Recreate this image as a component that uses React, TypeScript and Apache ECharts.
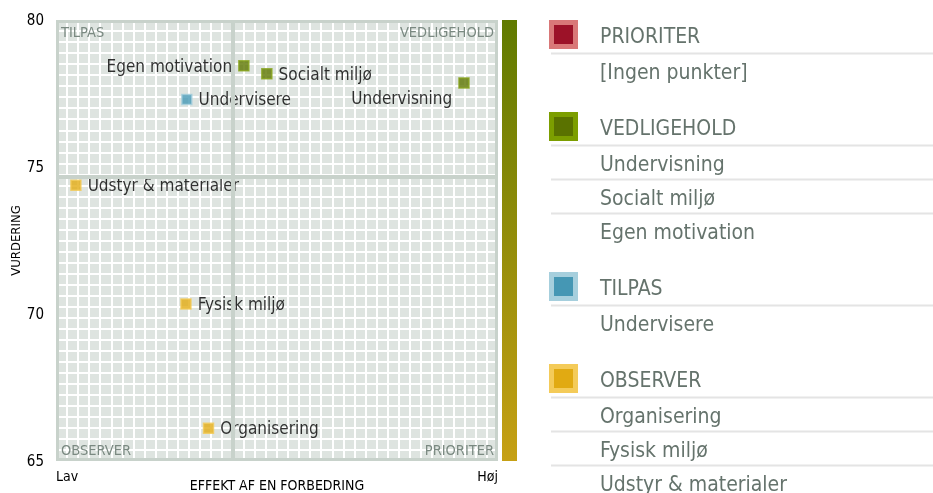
import React, { useEffect, useRef } from "react";
import * as echarts from "echarts";

// ---------- data ----------
const categories = [
  "Undervisning",
  "Socialt miljø",
  "Egen motivation",
  "Undervisere",
  "Udstyr & materialer",
  "Fysisk miljø",
  "Organisering",
];
const effekt = [92.3, 47.7, 42.5, 29.6, 4.5, 29.4, 34.5];
const vurdering = [77.86, 78.17, 78.44, 77.3, 74.38, 70.34, 66.11];
const yTicks = [65, 70, 75, 80];
const xTickLabels = ["Lav", "Høj"];
const quadrantNames = ["PRIORITER", "VEDLIGEHOLD", "TILPAS", "OBSERVER"];
const emptyText = "[Ingen punkter]";
const xAxisName = "EFFEKT AF EN FORBEDRING";
const yAxisName = "VURDERING";

// ---------- styles ----------
const FONT = "'DejaVu Sans Condensed', 'DejaVu Sans', sans-serif";
const quadColors: Record<string, { outer: string; inner: string }> = {
  PRIORITER: { outer: "#d97878", inner: "#9c1228" },
  VEDLIGEHOLD: { outer: "#88a51c", inner: "#5d7600" },
  TILPAS: { outer: "#a6cfdd", inner: "#4598b5" },
  OBSERVER: { outer: "#f3cb59", inner: "#e2ab13" },
};
const legendSquare: Record<string, { outer: string; inner: string }> = {
  PRIORITER: { outer: "#d97878", inner: "#9c1228" },
  VEDLIGEHOLD: { outer: "#7c9e00", inner: "#5a7200" },
  TILPAS: { outer: "#a6cfdd", inner: "#4597b4" },
  OBSERVER: { outer: "#f4cb59", inner: "#e1aa12" },
};
const labelPlacement: Record<string, any> = {
  Undervisning: { position: "left", offset: [0, 15] },
  "Egen motivation": { position: "left" },
};

const G = { left: 56, top: 20, width: 442, height: 441 };

export default function App() {
  const ref = useRef<HTMLDivElement>(null);

  useEffect(() => {
    if (!ref.current) return;
    const chart = echarts.init(ref.current, undefined, { renderer: "svg" });

    const meanX = effekt.reduce((a, b) => a + b, 0) / effekt.length;
    const meanY = vurdering.reduce((a, b) => a + b, 0) / vurdering.length;

    const quadOf = (i: number) => {
      const hx = effekt[i] >= meanX;
      const hy = vurdering[i] >= meanY;
      if (hx && !hy) return "PRIORITER";
      if (hx && hy) return "VEDLIGEHOLD";
      if (!hx && hy) return "TILPAS";
      return "OBSERVER";
    };

    const data = categories.map((name, i) => {
      const q = quadOf(i);
      const lp = labelPlacement[name] || { position: "right" };
      return {
        name,
        value: [effekt[i], vurdering[i]],
        itemStyle: {
          color: quadColors[q].inner,
          borderColor: quadColors[q].outer,
          borderWidth: 1.5,
        },
        label: { ...lp },
      };
    });

    // legend graphic
    const graphics: any[] = [];
    let y0 = 20;
    const lineX1 = 551;
    const lineX2 = 933;
    quadrantNames.forEach((q) => {
      const items = categories
        .map((c, i) => ({ c, i }))
        .filter((o) => quadOf(o.i) === q)
        .sort((a, b) => effekt[b.i] - effekt[a.i])
        .map((o) => o.c);
      const list = items.length ? items : [emptyText];
      graphics.push({
        type: "rect",
        shape: { x: 549, y: y0, width: 29, height: 29 },
        style: { fill: legendSquare[q].outer },
      });
      graphics.push({
        type: "rect",
        shape: { x: 554, y: y0 + 5, width: 19, height: 19 },
        style: { fill: legendSquare[q].inner },
      });
      graphics.push({
        type: "text",
        x: 600,
        y: y0 + 16,
        style: {
          text: q,
          fill: "#65736c",
          fontSize: 21,
          fontFamily: FONT,
          textVerticalAlign: "middle",
        },
      });
      graphics.push({
        type: "line",
        shape: { x1: lineX1, y1: y0 + 33.5, x2: lineX2, y2: y0 + 33.5 },
        style: { stroke: "#e4e4e4", lineWidth: 2 },
      });
      list.forEach((t, k) => {
        graphics.push({
          type: "text",
          x: 600,
          y: y0 + 52 + 34 * k,
          style: {
            text: t,
            fill: "#65736c",
            fontSize: 21,
            fontFamily: FONT,
            textVerticalAlign: "middle",
          },
        });
        if (k < list.length - 1) {
          const ly = y0 + 33.5 + 34 * (k + 1);
          graphics.push({
            type: "line",
            shape: { x1: lineX1, y1: ly, x2: lineX2, y2: ly },
            style: { stroke: "#e4e4e4", lineWidth: 2 },
          });
        }
      });
      y0 += 58 + 34 * list.length;
    });

    // colour bar
    graphics.push({
      type: "rect",
      shape: { x: 502, y: G.top, width: 15, height: G.height },
      style: {
        fill: new echarts.graphic.LinearGradient(0, 0, 0, 1, [
          { offset: 0, color: "#607a00" },
          { offset: 1, color: "#c6a014" },
        ]),
      },
    });

    // plot frame
    graphics.push({
      type: "rect",
      z: 1,
      shape: { x: G.left + 1.5, y: G.top + 1.5, width: G.width - 3, height: G.height - 3 },
      style: { fill: "none", stroke: "#c8d2cb", lineWidth: 3 },
    });

    // quadrant labels
    const ql = (text: string, x: number, y: number, align: string) => ({
      type: "text",
      z: 1,
      x,
      y,
      style: {
        text,
        fill: "#7a8981",
        fontSize: 14.5,
        fontFamily: FONT,
        textAlign: align,
        textVerticalAlign: "middle",
      },
    });
    graphics.push(ql("TILPAS", 61, 32, "left"));
    graphics.push(ql("VEDLIGEHOLD", 494, 32, "right"));
    graphics.push(ql("OBSERVER", 61, 450, "left"));
    graphics.push(ql("PRIORITER", 494, 450, "right"));

    const option: any = {
      animation: false,
      textStyle: { fontFamily: FONT },
      grid: {
        left: G.left,
        top: G.top,
        width: G.width,
        height: G.height,
        show: true,
        containLabel: false,
        outerBoundsMode: "none",
        backgroundColor: "#dee4e0",
        borderWidth: 0,
      },
      xAxis: [
        {
          type: "value",
          min: 0,
          max: 100,
          interval: 100,
          position: "bottom",
          axisLine: { show: false },
          axisTick: { show: false },
          splitLine: { show: false },
          axisLabel: {
            color: "#000",
            fontSize: 14,
            margin: 8,
            fontFamily: FONT,
            formatter: (v: number) => (v === 0 ? xTickLabels[0] : xTickLabels[1]),
            alignMinLabel: "left",
            alignMaxLabel: "right",
          },
          name: xAxisName,
          nameLocation: "middle",
          nameGap: 17,
          nameMoveOverlap: false,
          nameTextStyle: { color: "#000", fontSize: 14, fontFamily: FONT },
        },
        {
          type: "value",
          min: 0,
          max: 40,
          interval: 1,
          position: "top",
          axisLine: { show: false },
          axisTick: { show: false },
          axisLabel: { show: false },
          splitLine: { show: true, lineStyle: { color: "#ffffff", width: 2 } },
        },
      ],
      yAxis: [
        {
          type: "value",
          min: yTicks[0],
          max: yTicks[yTicks.length - 1],
          interval: yTicks[1] - yTicks[0],
          position: "left",
          axisLine: { show: false },
          axisTick: { show: false },
          splitLine: { show: false },
          axisLabel: { color: "#000", fontSize: 15, margin: 12, fontFamily: FONT },
          name: yAxisName,
          nameLocation: "middle",
          nameGap: 34,
          nameMoveOverlap: false,
          nameTextStyle: { color: "#000", fontSize: 13, fontFamily: FONT },
        },
        {
          type: "value",
          min: 0,
          max: 40,
          interval: 1,
          position: "right",
          axisLine: { show: false },
          axisTick: { show: false },
          axisLabel: { show: false },
          splitLine: { show: true, lineStyle: { color: "#ffffff", width: 2 } },
        },
      ],
      graphic: graphics,
      series: [
        {
          type: "scatter",
          xAxisIndex: 0,
          yAxisIndex: 0,
          symbol: "rect",
          symbolSize: 10,
          z: 3,
          data,
          label: {
            show: true,
            position: "right",
            distance: 6,
            formatter: (p: any) => p.name,
            color: "#000",
            fontSize: 17,
            fontFamily: FONT,
          },
          markLine: {
            silent: true,
            symbol: ["none", "none"],
            label: { show: false },
            lineStyle: { color: "#c8d2cb", width: 4, type: "solid" },
            data: [{ xAxis: meanX }, { yAxis: meanY }],
          },
        },
      ],
    };

    chart.setOption(option);
    return () => chart.dispose();
  }, []);

  return (
    <div
      ref={ref}
      style={{ position: "fixed", left: 0, top: 0, width: 933, height: 493 }}
    />
  );
}
